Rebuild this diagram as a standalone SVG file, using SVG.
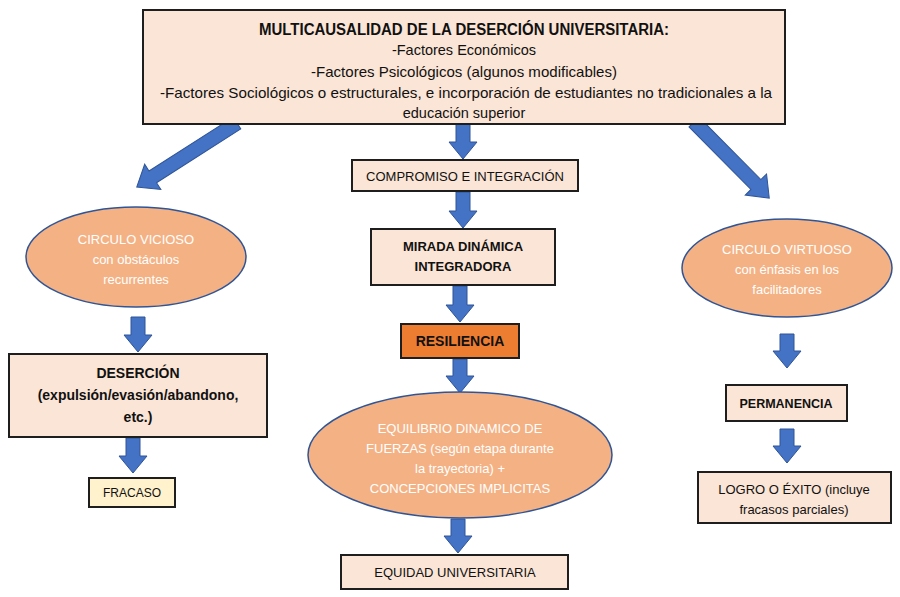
<svg xmlns="http://www.w3.org/2000/svg" width="900" height="597" viewBox="0 0 900 597">
<style>
.box{fill:#FBE5D6;stroke:#1e1e1e;stroke-width:2}
.ell{fill:#F4B183;stroke:#2F5597;stroke-width:1.5}
.arr{fill:#4472C4;stroke:#2F5597;stroke-width:1}
text{font-family:"Liberation Sans",Arial,sans-serif;fill:#111;text-anchor:middle}
.b{font-weight:bold}
.w{fill:#ffffff}
</style>
<rect width="900" height="597" fill="#ffffff"/>
<g id="connectors">
<path class="arr" transform="translate(237,123) rotate(57.4)" d="M-7,0 H7 V100 H15 L0,119 L-15,100 H-7 Z"/>
<path class="arr" transform="translate(694,122) rotate(-44.7)" d="M-7,0 H7 V88 H15 L0,107 L-15,88 H-7 Z"/>
<path class="arr" d="M456,124 H470 V142 H477 L463,159 L449,142 H456 Z"/>
<path class="arr" d="M456,192 H470 V211 H477 L463,228 L449,211 H456 Z"/>
<path class="arr" d="M453,286 H467 V305 H474 L460,322 L446,305 H453 Z"/>
<path class="arr" d="M453,359 H467 V376 H474 L460,393 L446,376 H453 Z"/>
<path class="arr" d="M451,519 H465 V536 H472 L458,553 L444,536 H451 Z"/>
<path class="arr" d="M131,317 H145 V335 H152 L138,352 L124,335 H131 Z"/>
<path class="arr" d="M126,438 H140 V456 H147 L133,473 L119,456 H126 Z"/>
<path class="arr" d="M780,334 H794 V351 H801 L787,368 L773,351 H780 Z"/>
<path class="arr" d="M780,429 H794 V446 H801 L787,463 L773,446 H780 Z"/>
</g>
<g id="top">
<rect class="box" x="143" y="10" width="642" height="114"/>
<text class="b" x="464" y="35" font-size="16" textLength="410" lengthAdjust="spacingAndGlyphs">MULTICAUSALIDAD DE LA DESERCIÓN UNIVERSITARIA:</text>
<text x="464" y="55" font-size="14.5">-Factores Económicos</text>
<text x="464" y="77" font-size="14.5" textLength="306" lengthAdjust="spacingAndGlyphs">-Factores Psicológicos (algunos modificables)</text>
<text x="466" y="98" font-size="14.5" textLength="612" lengthAdjust="spacingAndGlyphs">-Factores Sociológicos o estructurales, e incorporación de estudiantes no tradicionales a la</text>
<text x="464" y="118" font-size="14.5">educación superior</text>
</g>
<g id="compromiso">
<rect class="box" x="352" y="160" width="226" height="31"/>
<text x="465" y="181" font-size="13">COMPROMISO E INTEGRACIÓN</text>
</g>
<g id="mirada">
<rect class="box" x="371" y="229" width="184" height="56"/>
<text class="b" x="463" y="251" font-size="13">MIRADA DINÁMICA</text>
<text class="b" x="463" y="271" font-size="13">INTEGRADORA</text>
</g>
<g id="resiliencia">
<rect x="401" y="324" width="118" height="34" fill="#ED7D31" stroke="#1e1e1e" stroke-width="2"/>
<text class="b" x="460" y="346" font-size="14">RESILIENCIA</text>
</g>
<g id="equilibrio">
<ellipse class="ell" cx="460" cy="455" rx="152" ry="63"/>
<text class="w" x="460" y="433" font-size="13">EQUILIBRIO DINAMICO DE</text>
<text class="w" x="460" y="453" font-size="13">FUERZAS (según etapa durante</text>
<text class="w" x="460" y="473" font-size="13">la trayectoria) +</text>
<text class="w" x="460" y="493" font-size="13">CONCEPCIONES IMPLICITAS</text>
</g>
<g id="equidad">
<rect class="box" x="341" y="555" width="227" height="34"/>
<text x="455" y="577" font-size="13">EQUIDAD UNIVERSITARIA</text>
</g>
<g id="vicioso">
<ellipse class="ell" cx="136" cy="257" rx="110" ry="50"/>
<text class="w" x="136" y="244" font-size="13">CIRCULO VICIOSO</text>
<text class="w" x="136" y="264" font-size="13">con obstáculos</text>
<text class="w" x="136" y="284" font-size="13">recurrentes</text>
</g>
<g id="desercion">
<rect class="box" x="9" y="354" width="258" height="83"/>
<text class="b" x="138" y="378" font-size="14">DESERCIÓN</text>
<text class="b" x="138" y="400" font-size="14">(expulsión/evasión/abandono,</text>
<text class="b" x="138" y="422" font-size="14">etc.)</text>
</g>
<g id="fracaso">
<rect x="89" y="478" width="86" height="29" fill="#FFF2CC" stroke="#1e1e1e" stroke-width="2"/>
<text x="132" y="497" font-size="12">FRACASO</text>
</g>
<g id="virtuoso">
<ellipse class="ell" cx="787" cy="268" rx="105" ry="49"/>
<text class="w" x="787" y="254" font-size="13">CIRCULO VIRTUOSO</text>
<text class="w" x="787" y="274" font-size="13">con énfasis en los</text>
<text class="w" x="787" y="294" font-size="13">facilitadores</text>
</g>
<g id="permanencia">
<rect class="box" x="726" y="385" width="121" height="36"/>
<text class="b" x="786" y="408" font-size="12.5">PERMANENCIA</text>
</g>
<g id="logro">
<rect class="box" x="698" y="472" width="193" height="51"/>
<text x="794" y="494" font-size="13">LOGRO O ÉXITO (incluye</text>
<text x="794" y="514" font-size="13">fracasos parciales)</text>
</g>
</svg>
